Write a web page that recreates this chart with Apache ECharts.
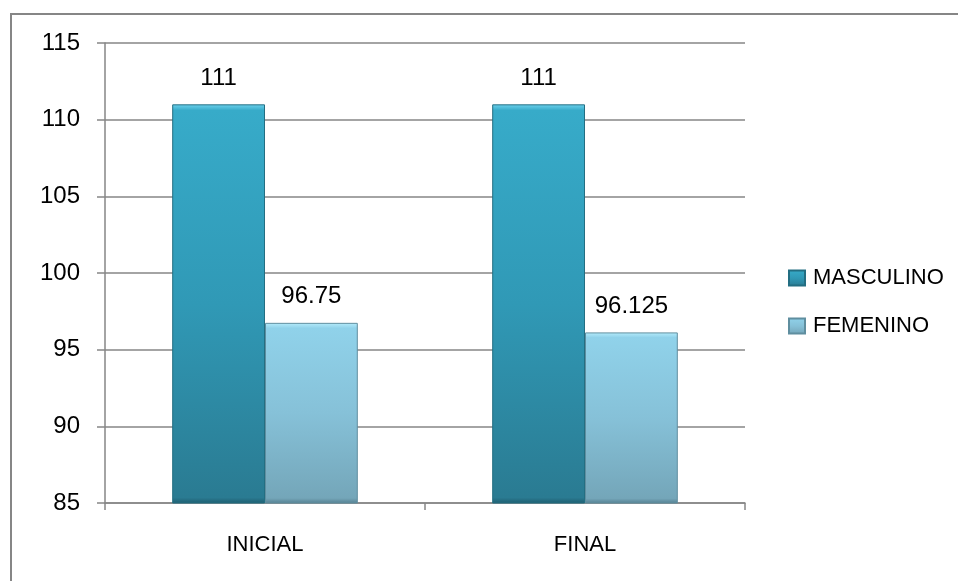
<!DOCTYPE html>
<html>
<head>
<meta charset="utf-8">
<script src="https://cdn.jsdelivr.net/npm/echarts@6/dist/echarts.min.js"></script>
<style>
html,body{margin:0;padding:0;background:#fff;}
#c{width:958px;height:581px;}
</style>
</head>
<body>
<div id="c"></div>
<script>
const categories = ['INICIAL', 'FINAL'];
const masculino = [111, 111];
const femenino = [96.75, 96.125];
const seriesNames = ['MASCULINO', 'FEMENINO'];

const FONT = '"Liberation Sans", Arial, sans-serif';

function grad(stops) {
  return new echarts.graphic.LinearGradient(0, 0, 0, 1, stops.map((c) => ({offset: c[0], color: c[1]})));
}
const mascColor = grad([[0, '#6fd3ee'], [0.015, '#37abc9'], [0.5, '#3099b6'], [0.985, '#2a7b92'], [1, '#1f5d6f']]);
const femColor = grad([[0, '#b6ecfb'], [0.03, '#90d2ea'], [0.5, '#86c1d8'], [0.97, '#74a6b9'], [1, '#557f90']]);

const chart = echarts.init(document.getElementById('c'));
chart.setOption({
  backgroundColor: '#fff',
  animation: false,
  textStyle: {fontFamily: FONT},
  graphic: [{
    type: 'rect',
    shape: {x: 11, y: 14, width: 1200, height: 1000},
    style: {fill: 'none', stroke: '#868686', lineWidth: 2},
    silent: true, z: -1
  }],
  grid: {left: 105, right: 213, top: 43, bottom: 78},
  legend: {
    orient: 'vertical',
    left: 788,
    top: 264,
    padding: 0,
    itemWidth: 16,
    itemHeight: 15,
    itemGap: 20,
    icon: 'rect',
    textStyle: {fontFamily: FONT, fontSize: 22, color: '#000', lineHeight: 28, padding: [0, 0, 0, 3]},
    data: seriesNames
  },
  xAxis: {
    type: 'category',
    data: categories,
    boundaryGap: true,
    axisLine: {lineStyle: {color: '#868686', width: 1.5}},
    axisTick: {show: true, length: 7, lineStyle: {color: '#868686', width: 1.5}},
    axisLabel: {color: '#000', fontFamily: FONT, fontSize: 22, margin: 31}
  },
  yAxis: {
    type: 'value',
    min: 85, max: 115, interval: 5,
    axisLine: {show: true, lineStyle: {color: '#868686', width: 1.5}},
    axisTick: {show: true, length: 8, lineStyle: {color: '#868686', width: 1.5}},
    splitLine: {lineStyle: {color: '#868686', width: 1.5}},
    axisLabel: {color: '#000', fontFamily: FONT, fontSize: 24, margin: 25}
  },
  series: [
    {
      name: seriesNames[0], type: 'bar', data: masculino,
      barWidth: '29%', barGap: '0%',
      itemStyle: {color: mascColor, borderColor: '#236e82', borderWidth: 1},
      label: {show: true, position: 'top', distance: 13, color: '#000', fontFamily: FONT, fontSize: 24, lineHeight: 26}
    },
    {
      name: seriesNames[1], type: 'bar', data: femenino,
      barWidth: '29%', barGap: '0%',
      itemStyle: {color: femColor, borderColor: '#5f8e9f', borderWidth: 1},
      label: {show: true, position: 'top', distance: 13, color: '#000', fontFamily: FONT, fontSize: 24, lineHeight: 26}
    }
  ]
});
</script>
</body>
</html>
